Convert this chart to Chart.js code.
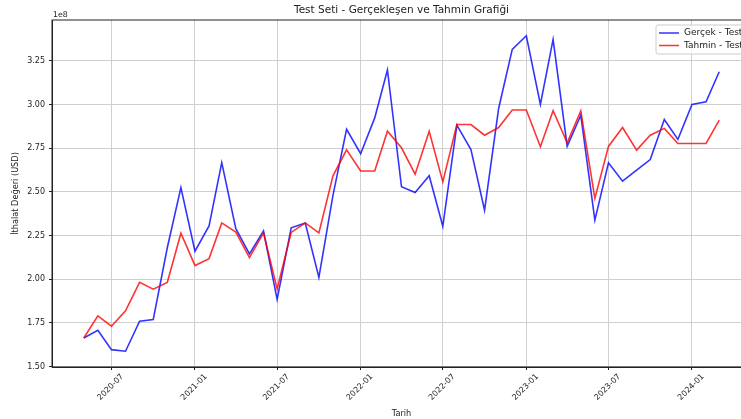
<!DOCTYPE html>
<html>
<head>
<meta charset="utf-8">
<script src="https://cdn.jsdelivr.net/npm/chart.js@4"></script>
<style>
  html, body { margin: 0; padding: 0; background: #fff; overflow: hidden; }
  canvas { display: block; }
</style>
</head>
<body>
<canvas id="chart" width="760" height="419"></canvas>
<script>
const months = [
  "2020-05", "2020-06", "2020-07", "2020-08", "2020-09", "2020-10", "2020-11", "2020-12",
  "2021-01", "2021-02", "2021-03", "2021-04", "2021-05", "2021-06",
  "2021-07", "2021-08", "2021-09", "2021-10", "2021-11", "2021-12",
  "2022-01", "2022-02", "2022-03", "2022-04", "2022-05", "2022-06",
  "2022-07", "2022-08", "2022-09", "2022-10", "2022-11", "2022-12",
  "2023-01", "2023-02", "2023-03", "2023-04", "2023-05", "2023-06",
  "2023-07", "2023-08", "2023-09", "2023-10", "2023-11", "2023-12",
  "2024-01", "2024-02", "2024-03"
];

// Gerçek - Test (USD)
const actual = [
  1.664e8, 1.708e8, 1.597e8, 1.588e8, 1.760e8, 1.769e8, 2.180e8, 2.524e8,
  2.160e8, 2.305e8, 2.667e8, 2.289e8, 2.145e8, 2.276e8,
  1.884e8, 2.294e8, 2.322e8, 2.010e8, 2.480e8, 2.858e8,
  2.718e8, 2.923e8, 3.197e8, 2.529e8, 2.496e8, 2.592e8,
  2.303e8, 2.882e8, 2.742e8, 2.395e8, 2.977e8, 3.315e8,
  3.393e8, 3.000e8, 3.372e8, 2.761e8, 2.939e8, 2.338e8,
  2.666e8, 2.561e8, 2.624e8, 2.685e8, 2.914e8, 2.800e8,
  3.000e8, 3.015e8, 3.187e8
];

// Tahmin - Test (USD)
const predicted = [
  1.664e8, 1.790e8, 1.731e8, 1.819e8, 1.982e8, 1.943e8, 1.982e8, 2.263e8,
  2.078e8, 2.118e8, 2.322e8, 2.270e8, 2.124e8, 2.265e8,
  1.945e8, 2.268e8, 2.322e8, 2.265e8, 2.592e8, 2.740e8,
  2.619e8, 2.619e8, 2.847e8, 2.752e8, 2.601e8, 2.847e8,
  2.557e8, 2.885e8, 2.885e8, 2.824e8, 2.868e8, 2.968e8,
  2.968e8, 2.758e8, 2.964e8, 2.781e8, 2.964e8, 2.462e8,
  2.760e8, 2.868e8, 2.739e8, 2.824e8, 2.863e8, 2.777e8,
  2.777e8, 2.777e8, 2.910e8
];

const xTickLabels = ["2020-07", "2021-01", "2021-07", "2022-01", "2022-07", "2023-01", "2023-07", "2024-01"];
const yTicks = [1.5e8, 1.75e8, 2.0e8, 2.25e8, 2.5e8, 2.75e8, 3.0e8, 3.25e8];

function dayOf(ym) {
  const [y, m] = ym.split("-").map(Number);
  return Date.UTC(y, m - 1, 1) / 864e5;
}

const xs = months.map(dayOf);
const xPad = 0.05 * (xs[xs.length - 1] - xs[0]);
const allVals = actual.concat(predicted);
const yLo = Math.min(...allVals), yHi = Math.max(...allVals);
const yPad = 0.05 * (yHi - yLo);

const ink = "#222";
const gridColor = "#cfcfcf";
Chart.defaults.font.family = "'DejaVu Sans', sans-serif";
Chart.defaults.color = ink;

const framePlugin = {
  id: "frame",
  afterDraw(chart) {
    const { ctx, chartArea: a } = chart;
    ctx.save();
    // axes box
    ctx.strokeStyle = ink;
    ctx.lineWidth = 1;
    ctx.strokeRect(a.left, a.top, a.right - a.left, a.bottom - a.top);

    // offset text
    ctx.fillStyle = ink;
    ctx.font = "7.8px 'DejaVu Sans'";
    ctx.textBaseline = "bottom";
    ctx.textAlign = "left";
    ctx.fillText("1e8", a.left + 1, a.top - 1.5);

    // legend, upper right
    const lx = a.right - 95, ly = a.top + 5, lw = 91, lh = 29;
    ctx.beginPath();
    ctx.roundRect(lx, ly, lw, lh, 2);
    ctx.fillStyle = "rgba(255,255,255,0.8)";
    ctx.fill();
    ctx.strokeStyle = "#cccccc";
    ctx.stroke();
    ctx.font = "9px 'DejaVu Sans'";
    ctx.textBaseline = "middle";
    chart.data.datasets.forEach((ds, i) => {
      const y = ly + 8 + i * 12.5;
      ctx.beginPath();
      ctx.moveTo(lx + 3, y);
      ctx.lineTo(lx + 23, y);
      ctx.strokeStyle = ds.borderColor;
      ctx.lineWidth = 1.5;
      ctx.stroke();
      ctx.fillStyle = ink;
      ctx.fillText(ds.label, lx + 28, y);
    });
    ctx.restore();
  }
};

new Chart(document.getElementById("chart"), {
  type: "line",
  data: {
    datasets: [
      {
        label: "Gerçek - Test",
        data: months.map((m, i) => ({ x: dayOf(m), y: actual[i] })),
        borderColor: "rgba(0,0,255,0.8)",
        borderWidth: 1.6,
        pointRadius: 0,
        tension: 0,
        order: 1
      },
      {
        label: "Tahmin - Test",
        data: months.map((m, i) => ({ x: dayOf(m), y: predicted[i] })),
        borderColor: "rgba(255,0,0,0.8)",
        borderWidth: 1.6,
        pointRadius: 0,
        tension: 0,
        order: 0
      }
    ]
  },
  options: {
    responsive: false,
    animation: false,
    devicePixelRatio: 1,
    layout: { padding: { left: 0, right: 9, top: 0, bottom: 0 } },
    plugins: {
      legend: { display: false },
      tooltip: { enabled: false },
      title: {
        display: true,
        text: "Test Seti - Gerçekleşen ve Tahmin Grafiği",
        fullSize: false,
        color: ink,
        font: { size: 10.5, weight: "normal" },
        padding: { top: 4, bottom: 3.4 }
      }
    },
    scales: {
      x: {
        type: "linear",
        min: xs[0] - xPad,
        max: xs[xs.length - 1] + xPad,
        afterBuildTicks: s => { s.ticks = xTickLabels.map(l => ({ value: dayOf(l) })); },
        afterFit: s => { s.height = 52; },
        ticks: {
          callback: (v, i) => xTickLabels[i],
          autoSkip: false,
          minRotation: 45,
          maxRotation: 45,
          labelOffset: 11,
          padding: 2,
          color: ink,
          font: { size: 8 }
        },
        grid: { color: gridColor, tickColor: ink, tickLength: 3, lineWidth: 1 },
        border: { color: ink },
        title: {
          display: true,
          text: "Tarih",
          color: ink,
          font: { size: 8.2 },
          padding: { top: 0, bottom: 0 }
        }
      },
      y: {
        min: yLo - yPad,
        max: yHi + yPad,
        afterBuildTicks: s => { s.ticks = yTicks.map(v => ({ value: v })); },
        afterFit: s => { s.width = 52; },
        ticks: {
          callback: v => (v / 1e8).toFixed(2),
          padding: 4,
          color: ink,
          font: { size: 8 }
        },
        grid: { color: gridColor, tickColor: ink, tickLength: 3, lineWidth: 1 },
        border: { color: ink },
        title: {
          display: true,
          text: "İthalat Değeri (USD)",
          color: ink,
          font: { size: 8.2 },
          padding: { top: 11, bottom: 0 }
        }
      }
    }
  },
  plugins: [framePlugin]
});
</script>
</body>
</html>
